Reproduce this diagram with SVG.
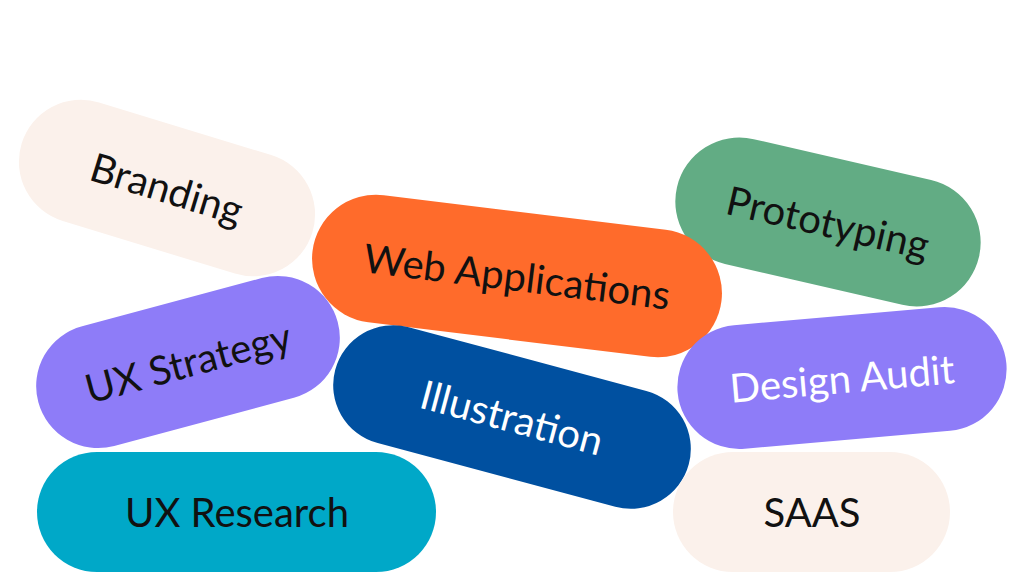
<svg xmlns="http://www.w3.org/2000/svg" width="1014" height="572" viewBox="0 0 1014 572">
<style>
text{font-family:Lato,"Liberation Sans",sans-serif;font-size:40px;text-anchor:middle;dominant-baseline:central;fill:#111}
.w{fill:#fff}
</style>
<rect width="1014" height="572" fill="#fff"/>
<g id="branding" transform="translate(167,188) rotate(17)"><rect x="-152" y="-62" width="304" height="124" rx="62" fill="#FBF1EB"/><text>Branding</text></g>
<g id="prototyping" transform="translate(828,222) rotate(13)"><rect x="-155" y="-64" width="310" height="128" rx="64" fill="#62AC84"/><text>Prototyping</text></g>
<g id="webapps" transform="translate(517,276) rotate(7)"><rect x="-206" y="-64" width="412" height="128" rx="64" fill="#FF6B2B"/><text>Web Applications</text></g>
<g id="uxstrategy" transform="translate(188,362) rotate(-15)"><rect x="-155" y="-62" width="310" height="124" rx="62" fill="#8E7CF8"/><text>UX Strategy</text></g>
<g id="illustration" transform="translate(512,417) rotate(15)"><rect x="-183" y="-60" width="366" height="120" rx="60" fill="#0050A0"/><text class="w">Illustration</text></g>
<g id="designaudit" transform="translate(842,378) rotate(-5)"><rect x="-165" y="-62" width="330" height="124" rx="62" fill="#8E7CF8"/><text class="w">Design Audit</text></g>
<g id="saas"><rect x="673" y="452" width="277" height="120" rx="60" fill="#FBF1EB"/><text x="812" y="512">SAAS</text></g>
<g id="uxresearch"><rect x="37" y="452" width="399" height="120" rx="60" fill="#00A8C8"/><text x="237" y="512">UX Research</text></g>
<g id="connectors"/>
</svg>
